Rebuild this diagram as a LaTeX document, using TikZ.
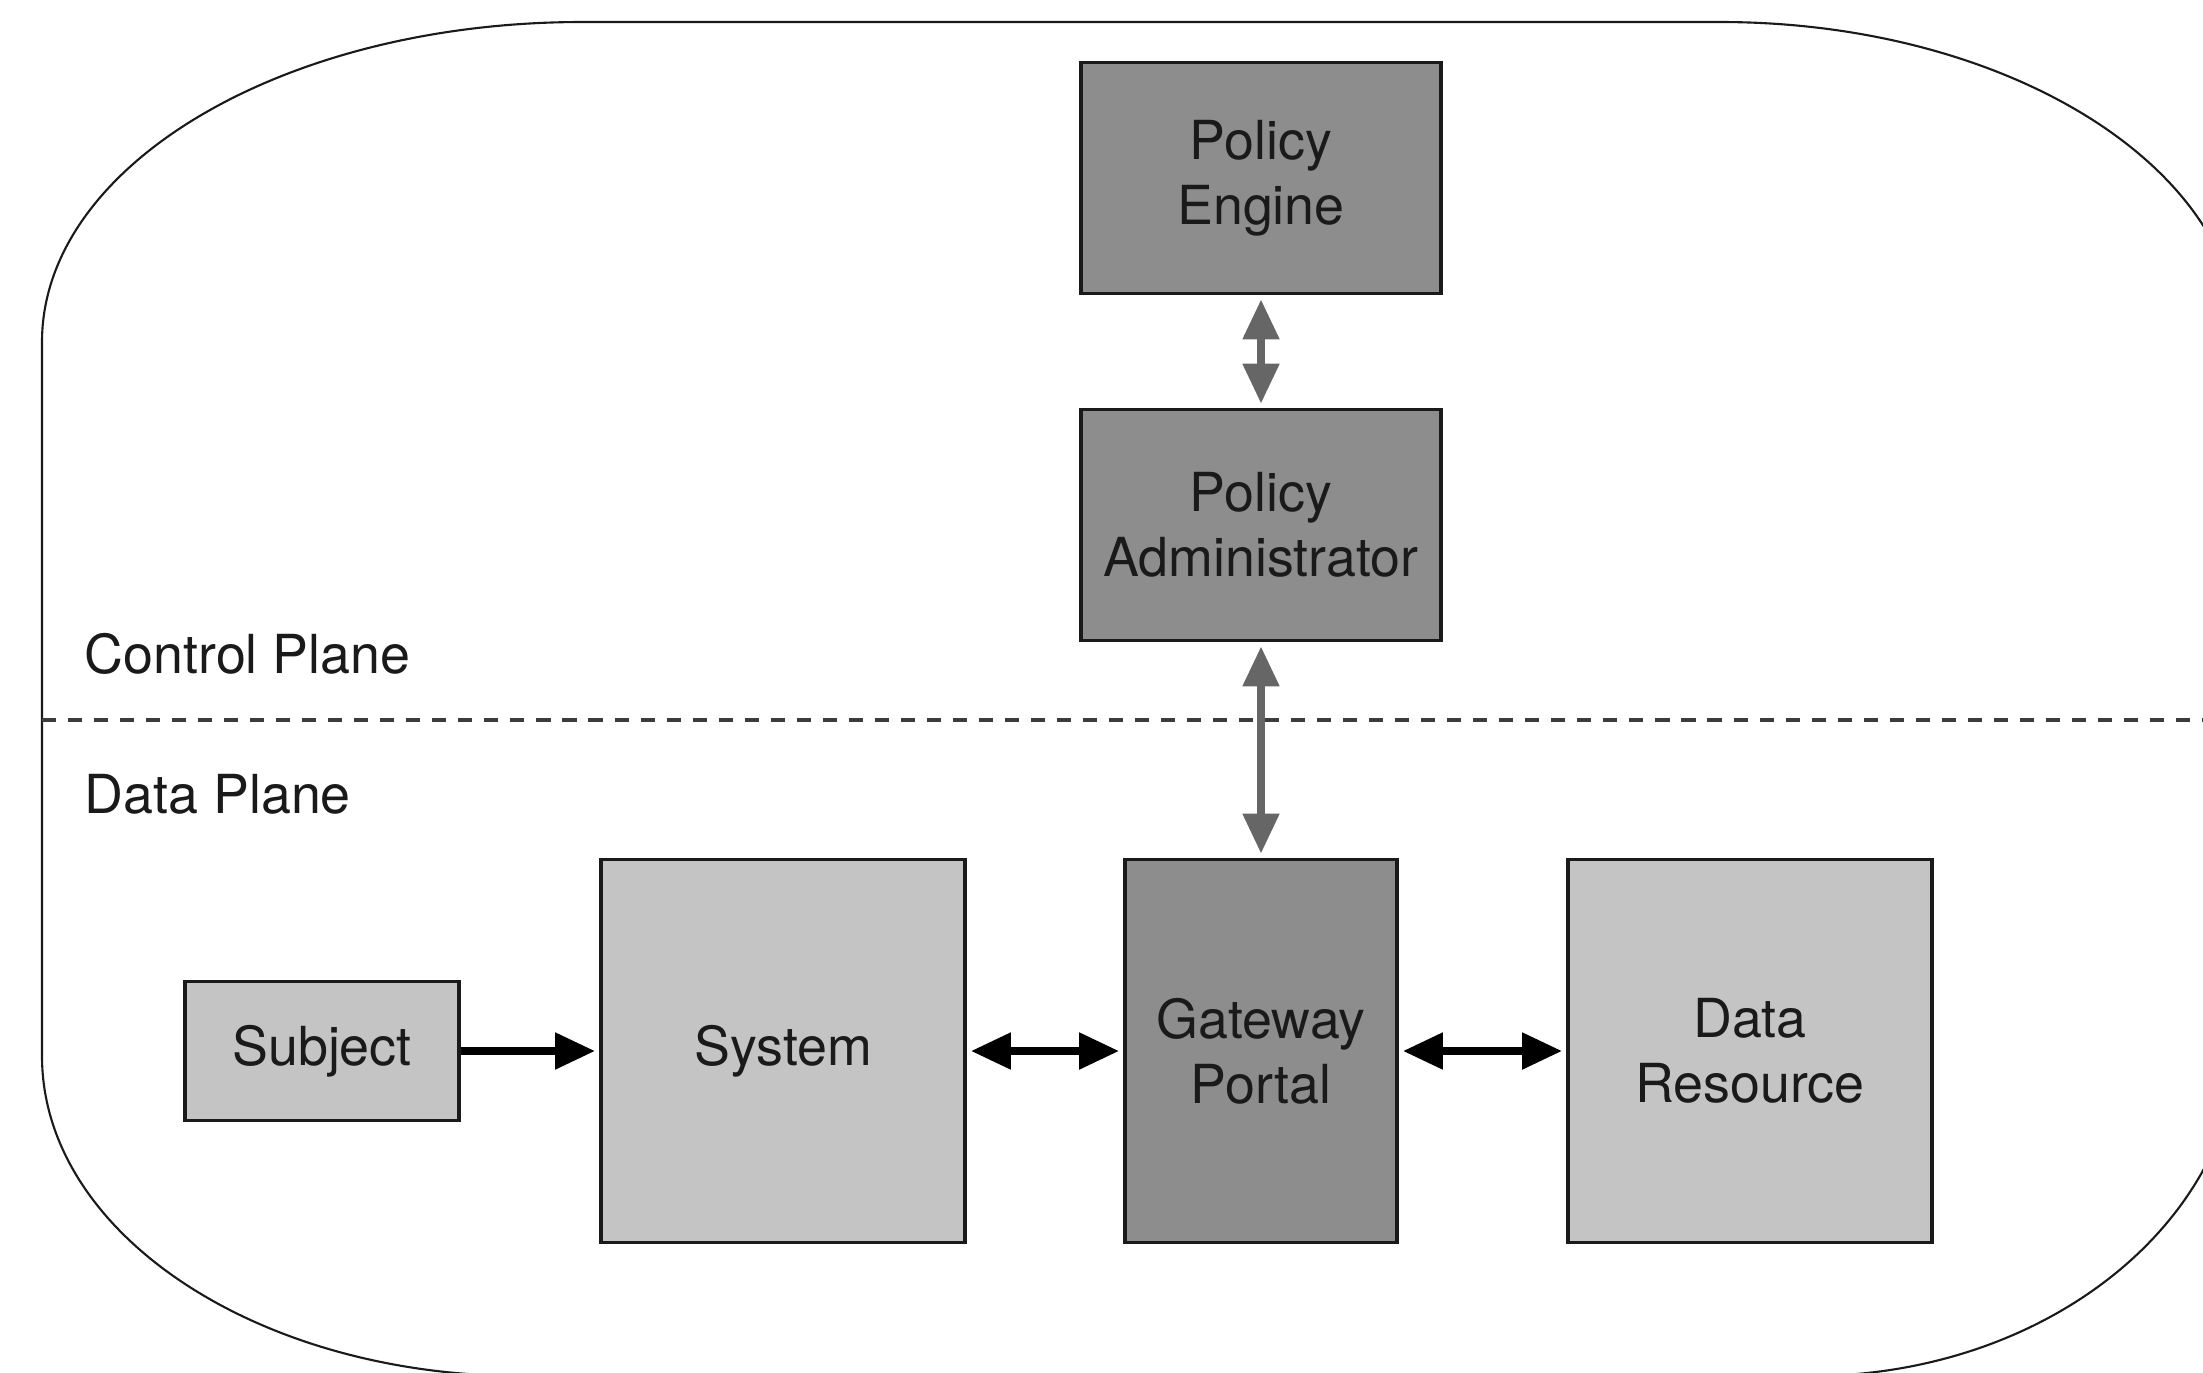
\documentclass[tikz,border=0pt]{standalone}
\usepackage{fontspec}
\setmainfont{TeX Gyre Heros}
\usepackage{tikz}
\usetikzlibrary{arrows.meta}

\definecolor{boxdark}{HTML}{8D8D8D}
\definecolor{boxlight}{HTML}{C4C4C4}
\definecolor{arrowgray}{HTML}{666666}
\definecolor{inkblack}{HTML}{1A1A1A}

\begin{document}
\begin{tikzpicture}[x=0.01cm, y=-0.01cm,
        >={Triangle[length=0.40cm, width=0.35cm]},
        every node/.style={font=\fontsize{15.3}{18.5}\selectfont, text=inkblack},
        darkbox/.style={rectangle, draw=inkblack, line width=1pt, fill=boxdark, align=center, inner sep=0pt},
        lightbox/.style={rectangle, draw=inkblack, line width=1pt, fill=boxlight, align=center, inner sep=0pt},
        blackarrow/.style={draw=black, line width=2.3pt, shorten >=0.04cm},
        grayarrow/.style={draw=arrowgray, line width=2.3pt, shorten >=0.04cm, shorten <=0.04cm},
        planeline/.style={draw=inkblack!85, line width=0.9pt, dash pattern=on 4pt off 3.4pt}
    ]
        \useasboundingbox (0,0) rectangle (2203,1372);
        \clip (0,0) rectangle (2203,1372);

        \draw[line width=0.6pt, draw=inkblack] (42,342) .. controls (42,165) and (284,22) .. (582,22)
            -- (1720,22) .. controls (2007,22) and (2240,167) .. (2240,345)
            -- (2240,1030) .. controls (2240,1221) and (2047,1376) .. (1810,1376)
            -- (522,1376) .. controls (257,1376) and (42,1233) .. (42,1056) -- cycle;

        \coordinate (divL) at (42,720);
        \coordinate (divR) at (2240,720);
        \draw[planeline] (divL) -- (divR);

        \node[anchor=base west, inner sep=0pt] (ctrl) at (84,673) {Control Plane};
        \node[anchor=base west, inner sep=0pt] (dataplane) at (84,813) {Data Plane};

        \node[darkbox, minimum width=3.6cm, minimum height=2.31cm] (pe) at (1261,178) {Policy\\Engine};
        \node[darkbox, minimum width=3.6cm, minimum height=2.31cm] (pa) at (1261,525) {Policy\\Administrator};
        \node[darkbox, minimum width=2.72cm, minimum height=3.83cm] (gw) at (1261,1051) {Gateway\\Portal};
        \node[lightbox, minimum width=3.64cm, minimum height=3.83cm] (sys) at (783,1051) {System};
        \node[lightbox, minimum width=3.64cm, minimum height=3.83cm] (res) at (1750,1051) {Data\\Resource};
        \node[lightbox, minimum width=2.74cm, minimum height=1.39cm] (subj) at (322,1051) {Subject};

        \draw[grayarrow, <->] (pe) -- (pa);
        \draw[grayarrow, <->] (pa) -- (gw);
        \draw[blackarrow, ->] (subj) -- (sys);
        \draw[blackarrow, shorten <=0.04cm, <->] (sys) -- (gw);
        \draw[blackarrow, shorten <=0.04cm, <->] (gw) -- (res);
    \end{tikzpicture}
\end{document}
